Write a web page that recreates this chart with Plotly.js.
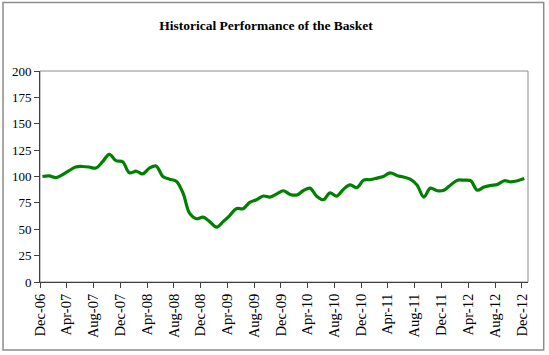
<!DOCTYPE html>
<html>
<head>
<meta charset="utf-8">
<script src="https://cdn.plot.ly/plotly-3.0.1.min.js"></script>
<style>
html,body{margin:0;padding:0;background:#fff;}
#chart{width:549px;height:355px;}
</style>
</head>
<body>
<div id="chart"></div>
<script>
// Monthly index level of the basket, Dec-2006 .. Dec-2012
const startYear = 2006, startMonth = 12, sampleDay = 12;
const basketValues = [
  100, 100.5, 99, 101.5, 105.5, 109, 109.5, 109, 108, 114, 121, 115,
  114, 103.5, 105, 102.5, 108, 110, 100, 97.5, 95.5, 84, 65, 60,
  61.5, 57, 52, 57, 63, 69.5, 69.5, 75.5, 78, 81.5, 80.5, 83.5,
  86.5, 83, 82.5, 86.5, 89, 81.5, 78, 84.5, 81.5, 88, 92, 89.5,
  96.5, 97, 98.5, 100, 103.5, 101, 99.5, 97.5, 92, 80.5, 89, 86.5,
  87, 92, 96.5, 96.5, 96, 87, 90, 91.5, 92.5, 96, 95, 96,
  98
];
const yTickValues = [0, 25, 50, 75, 100, 125, 150, 175, 200];
const chartTitle = "Historical Performance of the Basket";

function pad(n){return (n<10?'0':'')+n;}
const dates = basketValues.map((v,i)=>{
  const total = (startMonth-1) + i;
  const y = startYear + Math.floor(total/12);
  const m = total % 12 + 1;
  return y + '-' + pad(m) + '-' + pad(sampleDay);
});

const L = 40, R = 549-528.3, T = 71, B = 355-282.3;
const PW = 549 - L - R, PH = 355 - T - B;
function px(x){return (x - L)/PW;}
function py(y){return (355 - B - y)/PH;}

const SERIF = 'Liberation Serif';

const trace = {
  x: dates, y: basketValues, type: 'scatter', mode: 'lines',
  line: {color: '#008000', width: 3.2, shape: 'spline', smoothing: 1},
  hoverinfo: 'skip'
};

const layout = {
  width: 549, height: 355,
  margin: {l: L, r: R, t: T, b: B, pad: 0},
  paper_bgcolor: '#ffffff', plot_bgcolor: '#ffffff',
  showlegend: false,
  font: {family: SERIF, color: '#000', size: 13},
  title: {
    text: '<b>' + chartTitle + '</b>',
    font: {family: SERIF, size: 13.5, color: '#000'},
    x: 266/549, xanchor: 'center', xref: 'container',
    y: 1 - 25/355, yanchor: 'middle', yref: 'container'
  },
  xaxis: {
    type: 'date',
    range: ['2006-12-01', '2012-12-29'],
    tick0: '2006-12-01', dtick: 'M4', tickformat: '%b-%y',
    tickangle: -90,
    ticks: 'outside', ticklen: 5, tickwidth: 1, tickcolor: '#404040',
    showline: true, linecolor: '#404040', linewidth: 1,
    showgrid: false, zeroline: false,
    tickfont: {family: SERIF, size: 14.5, color: '#000'},
    fixedrange: true
  },
  yaxis: {
    range: [0, 200],
    tickvals: yTickValues,
    ticktext: yTickValues.map(String),
    ticks: 'outside', ticklen: 5, tickwidth: 1, tickcolor: '#404040',
    showline: true, linecolor: '#404040', linewidth: 1,
    showgrid: false, zeroline: false,
    tickfont: {family: SERIF, size: 13, color: '#000'},
    fixedrange: true
  },
  shapes: [
    {type: 'rect', xref: 'paper', yref: 'paper',
     x0: px(3), x1: px(544), y0: py(350.5), y1: py(2.5),
     line: {color: '#8c8c8c', width: 1.5}, fillcolor: 'rgba(0,0,0,0)', layer: 'below'},
    {type: 'rect', xref: 'paper', yref: 'paper',
     x0: 0, x1: 1, y0: 0, y1: 1,
     line: {color: '#8c8c8c', width: 1}, fillcolor: 'rgba(0,0,0,0)', layer: 'below'}
  ]
};

Plotly.newPlot('chart', [trace], layout, {displayModeBar: false, staticPlot: true});
</script>
</body>
</html>
